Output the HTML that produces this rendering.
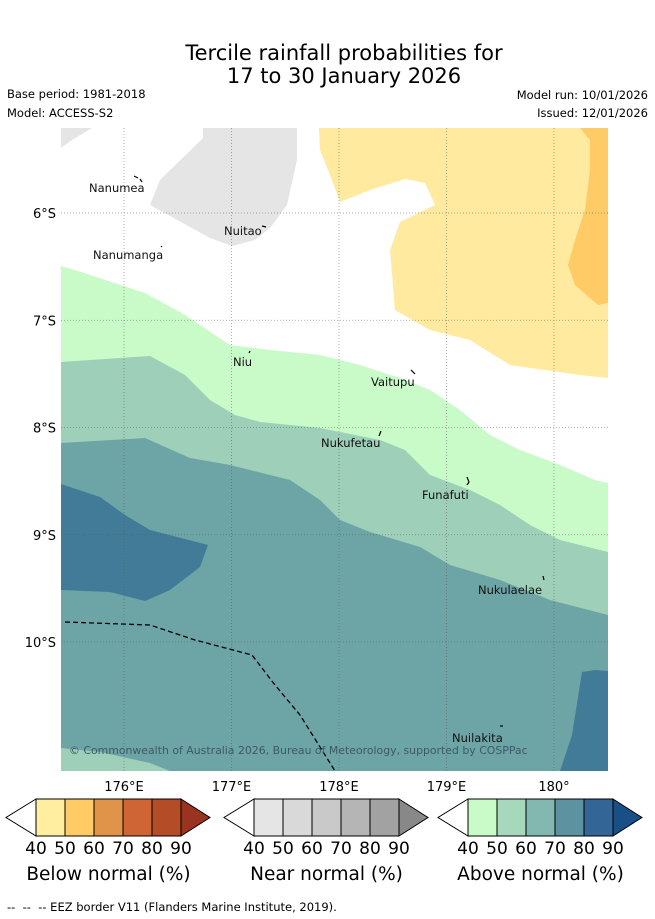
<!DOCTYPE html>
<html><head><meta charset="utf-8"><style>
body{margin:0;background:#fff;width:655px;height:919px;overflow:hidden;font-family:"Liberation Sans","DejaVu Sans",sans-serif}
svg{display:block}
</style></head><body>
<svg id="s" width="655" height="919" xmlns="http://www.w3.org/2000/svg">
<text x="344" y="60" font-size="21" text-anchor="middle" font-family="DejaVu Sans,sans-serif">Tercile rainfall probabilities for</text>
<text x="344" y="83" font-size="21" text-anchor="middle" font-family="DejaVu Sans,sans-serif">17 to 30 January 2026</text>
<g font-size="11.5" font-family="DejaVu Sans,sans-serif">
<text x="7" y="98">Base period: 1981-2018</text>
<text x="7" y="117">Model: ACCESS-S2</text>
<text x="648" y="99" text-anchor="end">Model run: 10/01/2026</text>
<text x="648" y="117" text-anchor="end">Issued: 12/01/2026</text>
</g>
<defs><clipPath id="mc"><rect x="61" y="128" width="547" height="643"/></clipPath></defs>
<g clip-path="url(#mc)">
<rect x="61" y="128" width="547" height="643" fill="#fff"/>
<polygon fill="#e5e5e5" points="203,128 297,128 297,160 287,205 270,228 255,240 232,246 210,238 150,205 160,180 203,138"/>
<polygon fill="#e5e5e5" points="61,128 92,128 72,140 61,148"/>
<polygon fill="#ffeaa0" points="319,128 608,128 608,378 580,375 510,365 470,340 430,330 395,310 390,250 400,222 435,205 425,183 405,179 370,190 340,202 330,175 320,150"/>
<polygon fill="#ffcb66" points="580,128 608,128 608,303 598,305 575,285 568,265 575,240 585,210 590,170 590,140"/>
<polygon fill="#c9fbc9" points="61,266 75,270 145,293 185,315 230,345 270,350 320,355 360,365 400,378 430,390 460,410 490,435 520,450 560,465 595,480 608,483 608,771 61,771"/>
<polygon fill="#9dcfb9" points="61,362 150,356 185,375 210,400 235,415 260,422 320,428 380,440 405,450 430,475 470,490 500,505 530,525 560,540 608,552 608,771 61,771"/>
<polygon fill="#6da4a6" points="61,443 145,438 190,458 230,465 290,480 320,500 340,520 370,532 420,547 450,565 500,580 550,600 608,615 608,771 170,771 150,763 100,752 61,748"/>
<polygon fill="#417b97" points="61,484 100,497 125,515 150,530 208,545 200,567 170,590 145,601 110,592 61,590"/>
<polygon fill="#417b97" points="582,672 595,670 608,671 608,771 560,771 572,735"/>
<g id="grid" stroke="#555" stroke-width="0.8" stroke-dasharray="1,2" opacity="0.6"></g>
<polyline fill="none" stroke="#000" stroke-width="1.3" stroke-dasharray="5,3" points="65,622 150,625 195,640 252,655 275,685 300,715 335,771"/>
<g stroke="#000" stroke-width="1.2" fill="none">
<path d="M134,176 l4,2 M140,179 l2,3"/><path d="M262,226 l4,1"/><path d="M161,246 l1,1"/><path d="M250,351 l-1,2"/>
<path d="M411,370 l4,4"/><path d="M381,431 l-2,5"/><path d="M467,477 l2,5 l-2,3"/><path d="M543,576 l1,4"/><path d="M500,726 l3,0"/>
</g>
<g font-size="11.5" fill="#111" font-family="DejaVu Sans,sans-serif">
<text x="89" y="192">Nanumea</text>
<text x="224" y="235">Nuitao</text>
<text x="93" y="259">Nanumanga</text>
<text x="233" y="366">Niu</text>
<text x="371" y="386">Vaitupu</text>
<text x="321" y="447">Nukufetau</text>
<text x="422" y="499">Funafuti</text>
<text x="478" y="594">Nukulaelae</text>
<text x="452" y="742">Nuilakita</text>
</g>
<text x="69" y="754" font-size="10.9" fill="#3d5a66" font-family="DejaVu Sans,sans-serif">© Commonwealth of Australia 2026, Bureau of Meteorology, supported by COSPPac</text>
</g>
<g id="ticks" font-size="13" font-family="DejaVu Sans,sans-serif"></g>
<g id="cbars" font-family="DejaVu Sans,sans-serif"></g>
<text x="7" y="911" font-size="11.5" font-family="DejaVu Sans,sans-serif" xml:space="preserve">--  --  -- EEZ border V11 (Flanders Marine Institute, 2019).</text>
</svg>
<script>
const lonTicks=[176,177,178,179,180];
const lonLabels=["176°E","177°E","178°E","179°E","180°"];
const latTicks=[6,7,8,9,10];
const latLabels=["6°S","7°S","8°S","9°S","10°S"];
const cbLabels=[40,50,60,70,80,90];
const cbTitles=["Below normal (%)","Near normal (%)","Above normal (%)"];
const cbColors=[["#ffeda0","#fecb65","#e0944a","#cf6534","#b44c27","#9a3320"],["#e5e5e5","#d9d9d9","#c9c9c9","#b5b5b5","#a2a2a2","#888888"],["#c9fbc9","#a6d9bb","#82b8b0","#5d93a0","#336696","#184f86"]];
const NS="http://www.w3.org/2000/svg";
const X=lon=>124+(lon-176)*107.5, Y=lat=>213+(lat-6)*107.25;
function mk(t,a,p){const e=document.createElementNS(NS,t);for(const k in a)e.setAttribute(k,a[k]);p.appendChild(e);return e;}
const grid=document.getElementById('grid'),ticks=document.getElementById('ticks');
lonTicks.forEach((v,i)=>{const l=mk('line',{x1:X(v),x2:X(v),y1:128,y2:771},grid);


const t=mk('text',{x:X(v),y:791,'text-anchor':'middle'},ticks);t.textContent=lonLabels[i];

});
latTicks.forEach((v,i)=>{const l=mk('line',{x1:61,x2:608,y1:Y(v),y2:Y(v)},grid);


const t=mk('text',{x:56,y:Y(v)+5,'text-anchor':'end'},ticks);t.textContent=latLabels[i];

});
const cb=document.getElementById('cbars');
const starts=[36,254,468],w=29,y0=799,h=37;
cbColors.forEach((cols,b)=>{const x0=starts[b];const g=mk('g',{},cb);


const lt=mk('polygon',{points:`${x0},${y0} ${x0-30},${y0+h/2} ${x0},${y0+h}`,fill:'#fff',stroke:'#000','stroke-width':1},g);


for(let i=0;i<5;i++){const r=mk('rect',{x:x0+i*w,y:y0,width:w,height:h,fill:cols[i],stroke:'#000','stroke-width':1},g);

}
const xe=x0+5*w;const rt=mk('polygon',{points:`${xe},${y0} ${xe+29},${y0+h/2} ${xe},${y0+h}`,fill:cols[5],stroke:'#000','stroke-width':1},g);


cbLabels.forEach((v,i)=>{const t=mk('text',{x:x0+i*w,y:854,'font-size':17,'text-anchor':'middle'},g);t.textContent=v;

});
const tt=mk('text',{x:x0+2.5*w,y:880,'font-size':18.5,'text-anchor':'middle'},g);tt.textContent=cbTitles[b];

});
</script>
</body></html>
